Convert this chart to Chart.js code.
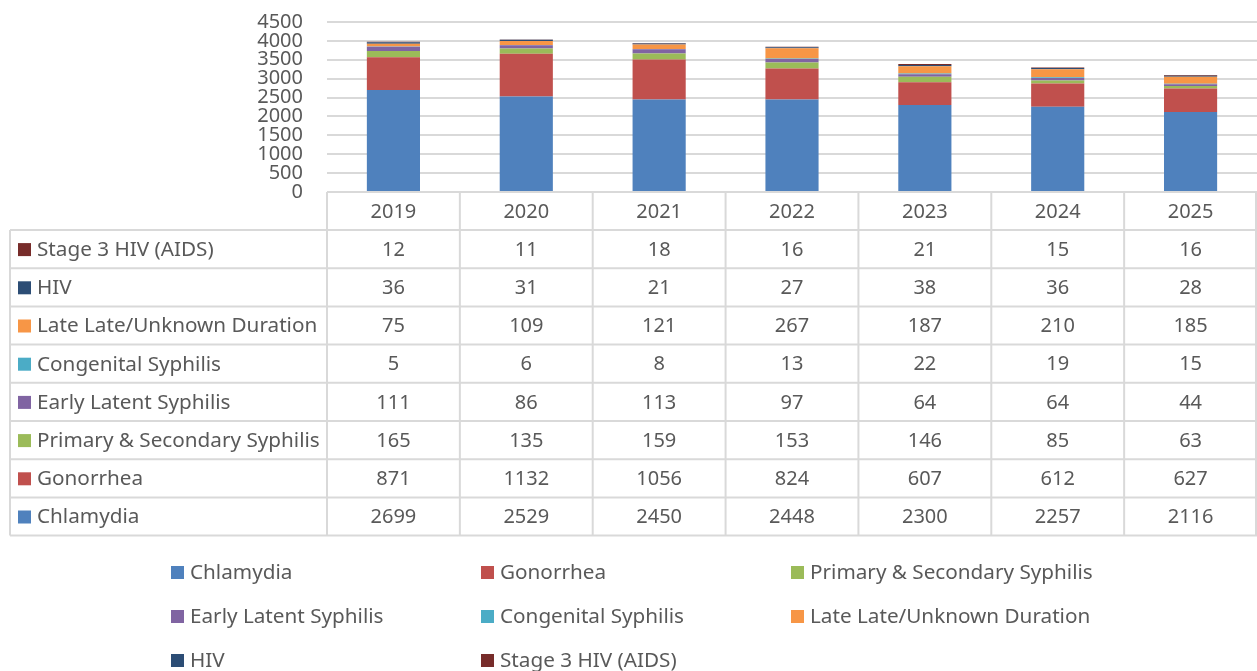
<!DOCTYPE html>
<html>
<head>
<meta charset="utf-8">
<script src="https://cdn.jsdelivr.net/npm/chart.js@4/dist/chart.umd.min.js"></script>
<style>
  html, body { margin: 0; padding: 0; background: #fff; }
  canvas { display: block; }
</style>
</head>
<body>
<canvas id="chart" width="1257" height="671"></canvas>
<script>
// data
const years = ['2019', '2020', '2021', '2022', '2023', '2024', '2025'];
const seriesNames = ['Chlamydia', 'Gonorrhea', 'Primary & Secondary Syphilis', 'Early Latent Syphilis',
  'Congenital Syphilis', 'Late Late/Unknown Duration', 'HIV', 'Stage 3 HIV (AIDS)'];
const chlamydia = [2699, 2529, 2450, 2448, 2300, 2257, 2116];
const gonorrhea = [871, 1132, 1056, 824, 607, 612, 627];
const primarySecondary = [165, 135, 159, 153, 146, 85, 63];
const earlyLatent = [111, 86, 113, 97, 64, 64, 44];
const congenital = [5, 6, 8, 13, 22, 19, 15];
const lateUnknown = [75, 109, 121, 267, 187, 210, 185];
const hiv = [36, 31, 21, 27, 38, 36, 28];
const stage3 = [12, 11, 18, 16, 21, 15, 16];
const yTicks = [0, 500, 1000, 1500, 2000, 2500, 3000, 3500, 4000, 4500];

const colors = ['#4F81BD', '#C0504D', '#9BBB59', '#8064A2', '#4BACC6', '#F79646', '#2C4D75', '#772C2A'];
const allSeries = [chlamydia, gonorrhea, primarySecondary, earlyLatent, congenital, lateUnknown, hiv, stage3];

const textColor = '#595959';
const lineColor = '#d9d9d9';
const font = '"Noto Sans", sans-serif';

// draws the data table and legend under the plot
const tablePlugin = {
  id: 'dataTable',
  afterDraw(chart) {
    const ctx = chart.ctx;
    const xs = chart.scales.x;
    const area = chart.chartArea;
    const colW = (area.right - area.left) / years.length;
    const headTop = area.bottom;
    const rowH = 38.2;
    const bodyTop = headTop + 38;
    const tableLeft = 10;

    ctx.save();
    ctx.strokeStyle = lineColor;
    ctx.lineWidth = 2;

    // header vertical lines
    for (let i = 0; i <= years.length; i++) {
      const x = Math.min(area.left + i * colW, area.right - 1);
      ctx.beginPath();
      ctx.moveTo(x, headTop);
      ctx.lineTo(x, bodyTop + rowH * seriesNames.length);
      ctx.stroke();
    }
    // left edge of table body
    ctx.beginPath();
    ctx.moveTo(tableLeft, bodyTop);
    ctx.lineTo(tableLeft, bodyTop + rowH * seriesNames.length);
    ctx.stroke();
    // horizontal lines
    for (let r = 0; r <= seriesNames.length; r++) {
      const y = bodyTop + r * rowH;
      ctx.beginPath();
      ctx.moveTo(tableLeft, y);
      ctx.lineTo(area.right, y);
      ctx.stroke();
    }

    ctx.font = '20px ' + font;
    ctx.fillStyle = textColor;
    ctx.textBaseline = 'middle';
    ctx.textAlign = 'center';
    years.forEach((yr, i) => {
      ctx.fillText(yr, xs.getPixelForValue(i), headTop + 20);
    });

    // body rows, top row is last series
    for (let r = 0; r < seriesNames.length; r++) {
      const s = seriesNames.length - 1 - r;
      const cy = bodyTop + r * rowH + rowH / 2 + 1;
      ctx.fillStyle = colors[s];
      ctx.fillRect(18, cy - 7, 13, 13);
      ctx.fillStyle = textColor;
      ctx.textAlign = 'left';
      ctx.font = '20.7px ' + font;
      ctx.fillText(seriesNames[s], 37, cy);
      ctx.textAlign = 'center';
      ctx.font = '20px ' + font;
      allSeries[s].forEach((v, i) => {
        ctx.fillText(String(v), xs.getPixelForValue(i), cy);
      });
    }

    // legend below table
    const legX = [171, 481, 791];
    const legY = [572, 616, 660];
    ctx.textAlign = 'left';
    ctx.font = '20.7px ' + font;
    seriesNames.forEach((name, i) => {
      const x = legX[i % 3];
      const y = legY[Math.floor(i / 3)];
      ctx.fillStyle = colors[i];
      ctx.fillRect(x, y - 6, 13, 13);
      ctx.fillStyle = textColor;
      ctx.fillText(name, x + 19, y + 1);
    });
    ctx.restore();
  }
};

new Chart(document.getElementById('chart'), {
  type: 'bar',
  data: {
    labels: years,
    datasets: seriesNames.map((name, i) => ({
      label: name,
      data: allSeries[i],
      backgroundColor: colors[i],
      borderWidth: 0,
      barPercentage: 0.4,
      categoryPercentage: 1
    }))
  },
  options: {
    responsive: false,
    animation: false,
    layout: { padding: { top: 22, right: 0, bottom: 479, left: 0 } },
    plugins: { legend: { display: false }, tooltip: { enabled: false } },
    scales: {
      x: {
        stacked: true,
        display: false
      },
      y: {
        stacked: true,
        min: 0,
        max: 4500,
        afterBuildTicks: (scale) => { scale.ticks = yTicks.map(v => ({ value: v })); },
        afterFit: (scale) => { scale.width = 327; scale.paddingTop = 0; scale.paddingBottom = 0; },
        grid: { color: lineColor, lineWidth: 2, drawTicks: false },
        border: { display: false },
        ticks: {
          color: textColor,
          font: { size: 20, family: font },
          padding: 24,
          autoSkip: false,
          callback: (v) => String(v)
        }
      }
    }
  },
  plugins: [tablePlugin]
});
</script>
</body>
</html>
